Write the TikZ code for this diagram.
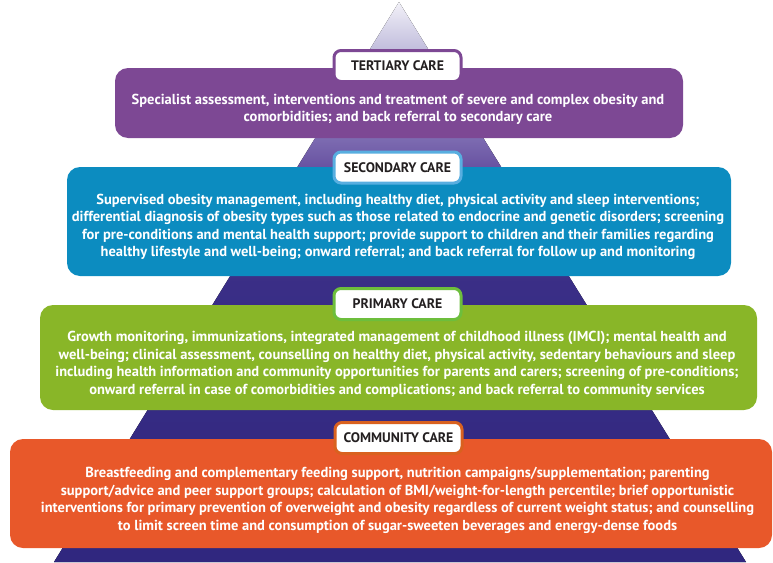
\documentclass[tikz,border=0pt]{standalone}
\usepackage{fontspec}
\setmainfont{PT Sans}
\definecolor{pyrT}{HTML}{F2F1F8}
\definecolor{pyrL}{HTML}{C4C0DE}
\definecolor{pyrA}{HTML}{8E80BE}
\definecolor{pyrB}{HTML}{6650A0}
\definecolor{pyrC}{HTML}{3A2E86}
\definecolor{pyrD}{HTML}{30277F}
\definecolor{terC}{HTML}{7D4894}
\definecolor{secC}{HTML}{0C8CC0}
\definecolor{secB}{HTML}{58AEE0}
\definecolor{priC}{HTML}{89B628}
\definecolor{priB}{HTML}{6DBE3C}
\definecolor{comC}{HTML}{E8582A}
\definecolor{comB}{HTML}{D9611F}
\definecolor{labT}{HTML}{231F20}
\pgfdeclareverticalshading{pyr}{100bp}{color(0bp)=(pyrD); color(25bp)=(pyrD); color(50bp)=(pyrC); color(60bp)=(pyrB); color(65bp)=(pyrA); color(71bp)=(pyrL); color(75bp)=(pyrT); color(100bp)=(pyrT)}
\begin{document}
\begin{tikzpicture}[x=1pt,y=-1pt,
  tierbox/.style={rectangle, rounded corners=13pt, inner sep=0pt, draw=none},
  tiertext/.style={align=center, text=white, inner sep=0pt,
    font=\bfseries\fontsize{14.5}{17.5}\selectfont},
  tierlabel/.style={rectangle, rounded corners=7pt, fill=white, line width=3pt,
    minimum width=127pt, minimum height=31pt, inner sep=0pt, text=labT,
    font=\bfseries\fontsize{13.8}{16}\selectfont}]
\useasboundingbox (0,0) rectangle (773,562);
% pyramid
\fill[shading=pyr] (399,2) -- (746,562) -- (54,562) -- cycle;
% tertiary
\node[tierbox, fill=terC, minimum width=568pt, minimum height=70pt] (tbox) at (399,103) {};
\node[tierlabel, draw=terC] (tlab) at (397.5,66) {TERTIARY CARE};
\node[tiertext] (ttext) at (398,109.5) {Specialist assessment, interventions and treatment of severe and complex obesity and\\comorbidities; and back referral to secondary care};
% secondary
\node[tierbox, fill=secC, minimum width=664pt, minimum height=109pt] (sbox) at (399,221.5) {};
\node[tierlabel, draw=secB] (slab) at (397.5,167.5) {SECONDARY CARE};
\node[tiertext] (stext) at (398,227) {Supervised obesity management, including healthy diet, physical activity and sleep interventions;\\differential diagnosis of obesity types such as those related to endocrine and genetic disorders; screening\\for pre-conditions and mental health support; provide support to children and their families regarding\\healthy lifestyle and well-being; onward referral; and back referral for follow up and monitoring};
% primary
\node[tierbox, fill=priC, minimum width=717pt, minimum height=105pt] (pbox) at (398.5,357.5) {};
\node[tierlabel, draw=priB] (plab) at (397.5,304) {PRIMARY CARE};
\node[tiertext] (ptext) at (397,364.5) {Growth monitoring, immunizations, integrated management of childhood illness (IMCI); mental health and\\well-being; clinical assessment, counselling on healthy diet, physical activity, sedentary behaviours and sleep\\including health information and community opportunities for parents and carers; screening of pre-conditions;\\onward referral in case of comorbidities and complications; and back referral to community services};
% community
\node[tierbox, fill=comC, minimum width=762pt, minimum height=109pt] (cbox) at (391,493.5) {};
\node[tierlabel, draw=comB] (clab) at (398.5,438) {COMMUNITY CARE};
\node[tiertext] (ctext) at (397.5,500.5) {Breastfeeding and complementary feeding support, nutrition campaigns/supplementation; parenting\\support/advice and peer support groups; calculation of BMI/weight-for-length percentile; brief opportunistic\\interventions for primary prevention of overweight and obesity regardless of current weight status; and counselling\\to limit screen time and consumption of sugar-sweeten beverages and energy-dense foods};
\end{tikzpicture}
\end{document}
